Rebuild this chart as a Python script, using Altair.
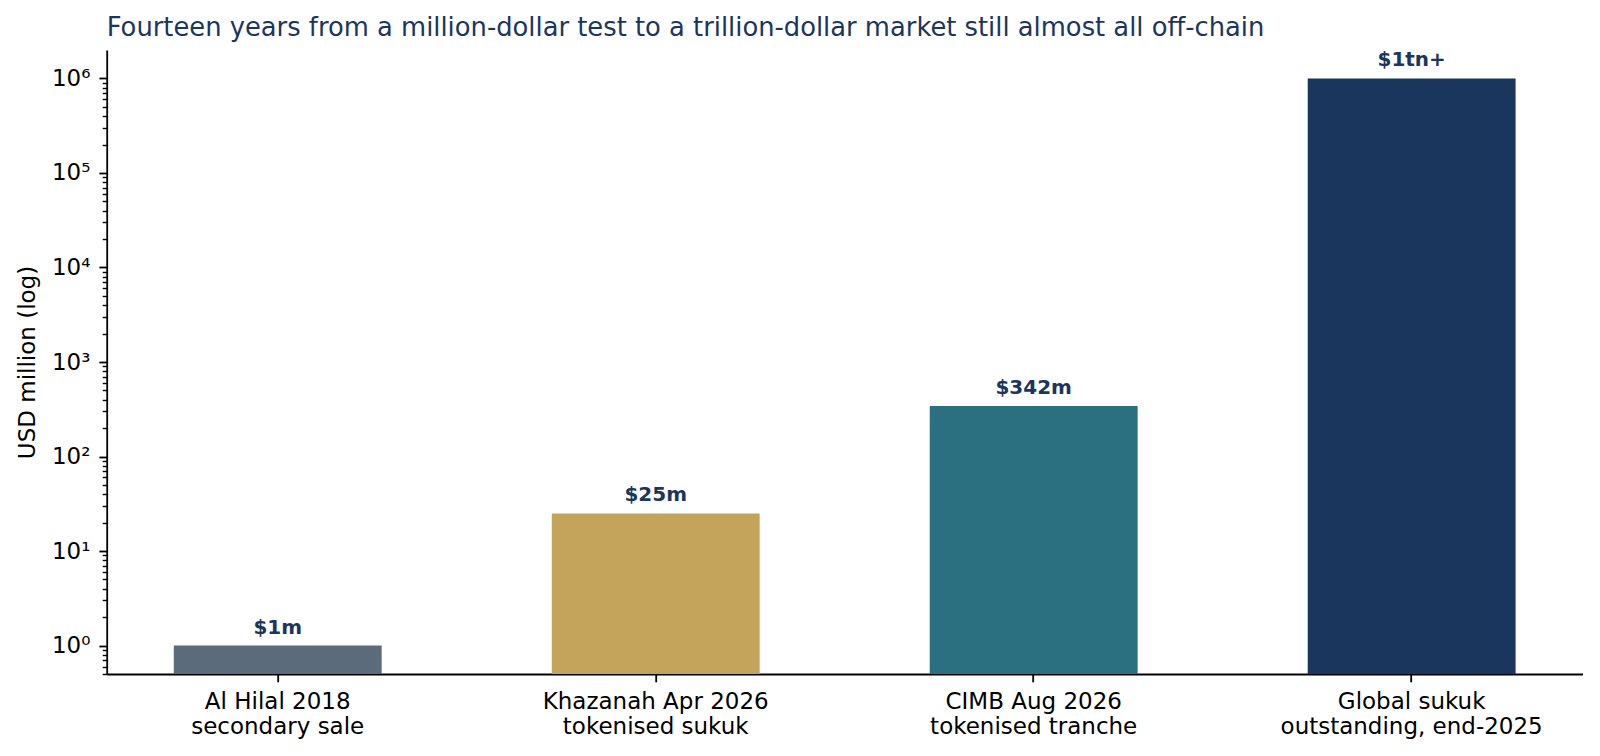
import altair as alt
import pandas as pd

# bar data
categories = [
    "Al Hilal 2018\nsecondary sale",
    "Khazanah Apr 2026\ntokenised sukuk",
    "CIMB Aug 2026\ntokenised tranche",
    "Global sukuk\noutstanding, end-2025",
]
values = [1, 25, 342, 1_000_000]
labels = ["$1m", "$25m", "$342m", "$1tn+"]
colors = ["#5b6b7b", "#c4a35a", "#2a7080", "#1b365d"]

# log axis ticks: decades plus minor 2..9
decades = [0.1, 1, 10, 100, 1000, 10000, 100000, 1000000]
minor = [1, 2, 3, 4, 5, 6, 7, 8, 9]
tick_values = [d * m for d in decades for m in minor if 0.5 <= d * m <= 1000000]

y_min, y_max = 0.5, 2_000_000

df = pd.DataFrame({"item": categories, "value": values, "label": labels})

navy = "#1b365d"
font = "DejaVu Sans"

is_major = "abs(log(datum.value)/LN10 - round(log(datum.value)/LN10)) < 1e-6"
sup = "['⁰','¹','²','³','⁴','⁵','⁶'][round(log(datum.value)/LN10)]"

x = alt.X(
    "item:N",
    sort=categories,
    scale=alt.Scale(paddingInner=0.45, paddingOuter=0.1775),
    axis=alt.Axis(
        title=None,
        labelAngle=0,
        labelExpr="split(datum.label, '\\n')",
        labelFontSize=23,
        labelLineHeight=25,
        labelPadding=9,
        labelLimit=0,
        labelColor="black",
        tickSize=7.8,
        tickWidth=1.8,
        tickColor="black",
        domainColor="black",
        domainWidth=1.8,
    ),
)

y = alt.Y(
    "value:Q",
    scale=alt.Scale(type="log", domain=[y_min, y_max], nice=False),
    axis=alt.Axis(
        title="USD million (log)",
        titleFontSize=23,
        titleFontWeight="normal",
        titleColor="black",
        titlePadding=12,
        values=tick_values,
        labelExpr=f"{is_major} ? '10' + {sup} : ''",
        labelFontSize=23,
        labelPadding=9,
        labelColor="black",
        tickSize={"condition": {"test": is_major, "value": 7.8}, "value": 4.5},
        tickWidth={"condition": {"test": is_major, "value": 1.8}, "value": 1.4},
        tickColor="black",
        domainColor="black",
        domainWidth=1.8,
        grid=False,
    ),
)

bars = alt.Chart(df).mark_bar().encode(
    x=x,
    y=y,
    y2=alt.datum(y_min),
    color=alt.Color("item:N", scale=alt.Scale(domain=categories, range=colors), legend=None),
)

text = alt.Chart(df).mark_text(
    dy=-12, baseline="alphabetic", fontSize=20, fontWeight="bold", color=navy, font=font
).encode(
    x=alt.X("item:N", sort=categories),
    y="value:Q",
    text="label:N",
)

chart = (bars + text).properties(
    width=1476,
    height=624,
    autosize=alt.AutoSizeParams(type="none"),
    padding={"left": 98.7, "top": 42, "right": 0, "bottom": 74},
    title=alt.TitleParams(
        "Fourteen years from a million-dollar test to a trillion-dollar market still almost all off-chain",
        anchor="start",
        frame="group",
        fontSize=25.8,
        fontWeight="normal",
        color=navy,
        font=font,
        baseline="alphabetic",
        offset=14,
        dy=26,
    ),
).configure(font=font).configure_view(stroke=None).configure_axis(grid=False)

chart.save("out.html", embed_options={"renderer": "svg", "actions": False})
